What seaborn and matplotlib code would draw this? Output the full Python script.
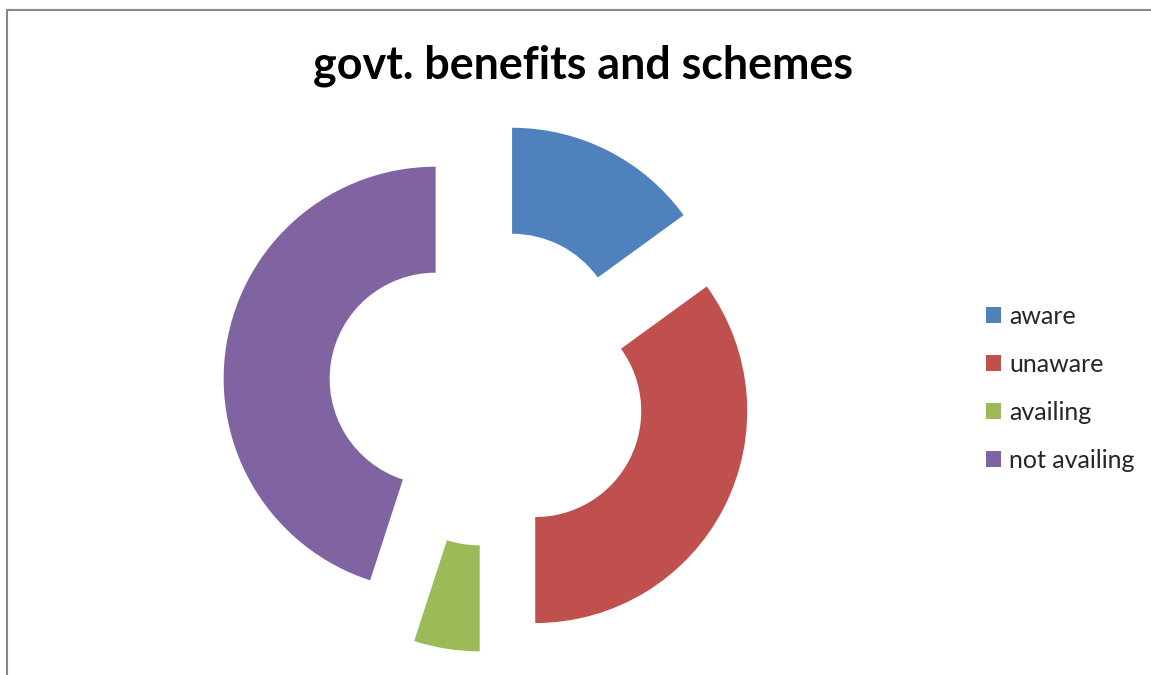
import matplotlib
matplotlib.use("Agg")
import matplotlib.pyplot as plt
from matplotlib.patches import Rectangle, Patch
import seaborn as sns

# Survey shares (percent) for awareness / use of government schemes
categories = ["aware", "unaware", "availing", "not availing"]
shares = [15, 35, 5, 45]
colors = ["#4F81BD", "#C0504D", "#9BBB59", "#8064A2"]
title = "govt. benefits and schemes"

sns.set_theme(style="white")
plt.rcParams["font.family"] = ["Lato", "DejaVu Sans"]

W, H = 1151, 675
fig = plt.figure(figsize=(W / 100, H / 100), dpi=100)
fig.patch.set_facecolor("white")
ax = fig.add_axes([0, 0, 1, 1])

palette = sns.color_palette(colors)
wedges, _ = ax.pie(
    shares,
    colors=palette,
    startangle=90,
    counterclock=False,
    explode=[0.25] * len(shares),
    radius=1.0,
    wedgeprops=dict(width=0.5, edgecolor="none", linewidth=0),
)

# Place the ring: centre at (488, 387) px, outer radius 212 px
cx, cy, r = 488, 387, 212
ax.set_xlim(-cx / r, (W - cx) / r)
ax.set_ylim(-(H - cy) / r, cy / r)
ax.set_aspect("auto")
ax.axis("off")

# Chart-area frame
fig.add_artist(Rectangle((7 / W, -0.2), 1.5, 1.2 - 10 / H, transform=fig.transFigure,
                         fill=False, edgecolor="#878787", linewidth=1.5))

fig.text(583 / W, 1 - 66 / H, title, ha="center", va="center",
         fontsize=32.3, fontweight="bold", color="black")

fs = 18
fpx = fs * 100 / 72
handles = [Patch(facecolor=c, edgecolor="none") for c in palette]
ax.legend(handles, categories, loc="center left",
          bbox_to_anchor=(986 / W, 1 - 388 / H), bbox_transform=fig.transFigure,
          frameon=False, fontsize=fs, borderpad=0, borderaxespad=0,
          handlelength=15 / fpx, handleheight=15 / fpx, handletextpad=8 / fpx,
          labelspacing=1.0)

fig.savefig("out.png", dpi=100, facecolor="white")
